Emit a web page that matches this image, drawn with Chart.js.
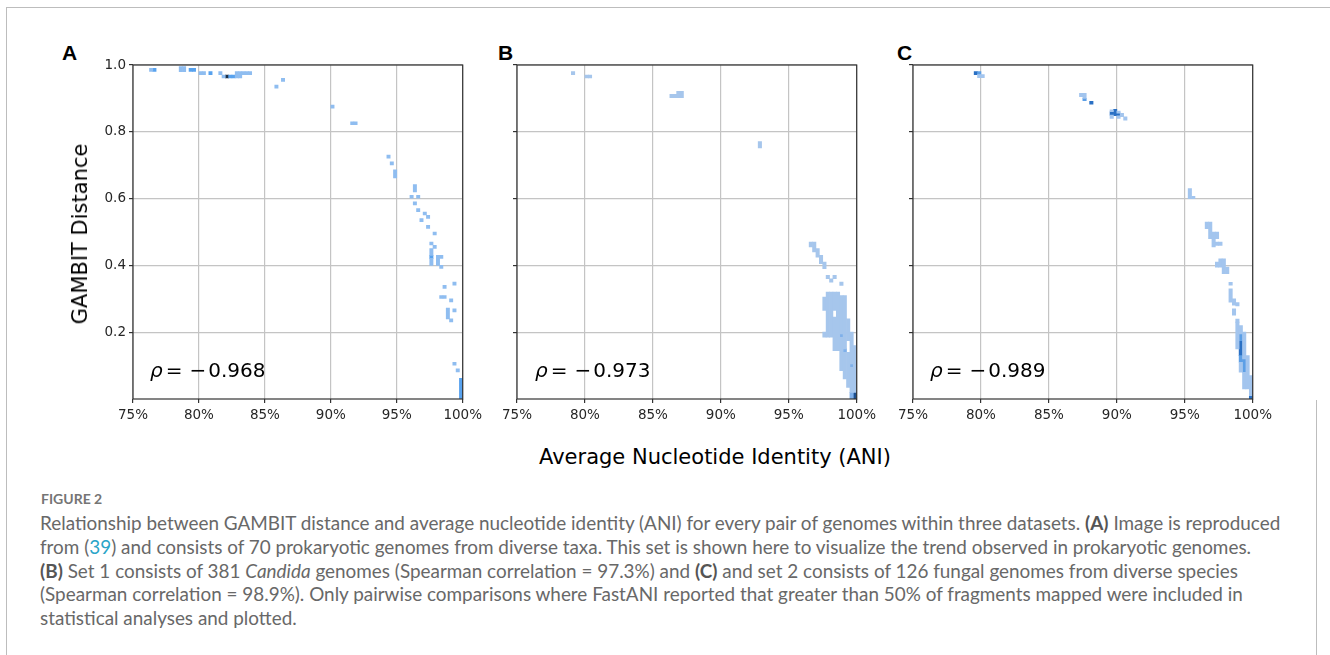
<!DOCTYPE html>
<html>
<head>
<meta charset="utf-8">
<script src="https://cdn.jsdelivr.net/npm/chart.js@4.4.1/dist/chart.umd.min.js"></script>
<style>
  body { margin: 0; width: 1330px; height: 655px; background: #fff; position: relative; overflow: hidden; font-family: 'DejaVu Sans', sans-serif; }
  .line { position: absolute; background: #bdbdbd; }
  .letter { position: absolute; top: 42px; font: bold 21px/21px 'Liberation Sans', Arial, sans-serif; color: #000; }
  .rho { position: absolute; top: 360px; font: 20px/20px 'DejaVu Sans', sans-serif; color: #000; white-space: nowrap; }
  .rho i { font-style: italic; }
  #ytitle { position: absolute; left: 80px; top: 234px; transform: translate(-50%, -50%) rotate(-90deg); font: 21px 'DejaVu Sans', sans-serif; white-space: nowrap; }
  #xtitle { position: absolute; left: 715px; top: 457px; transform: translate(-50%, -50%); font: 21px 'DejaVu Sans', sans-serif; white-space: nowrap; }
  #figlabel { position: absolute; left: 41px; top: 490px; font: bold 14px/18px Lato, sans-serif; color: #757575; }
  #caption { position: absolute; left: 40px; top: 511px; font: 18.9px/23.75px Lato, sans-serif; color: #686868; white-space: nowrap; }
  #caption b { color: #555; }
  #caption .ref { color: #2aa5c8; }
  canvas { position: absolute; }
</style>
</head>
<body>
<div class="line" style="left:6px; top:7px; width:1324px; height:1px;"></div>
<div class="line" style="left:6px; top:7px; width:1px; height:648px;"></div>
<div class="line" style="left:1316px; top:400px; width:1px; height:255px;"></div>

<div class="letter" style="left:62px;">A</div>
<div class="letter" style="left:498px;">B</div>
<div class="letter" style="left:897px;">C</div>

<canvas id="chartA" width="426" height="380" style="left:60px; top:50px;"></canvas>
<canvas id="chartB" width="383" height="380" style="left:497px; top:50px;"></canvas>
<canvas id="chartC" width="383" height="380" style="left:893px; top:50px;"></canvas>

<div class="rho" id="rhoA" style="left:150px;"></div>
<div class="rho" id="rhoB" style="left:535px;"></div>
<div class="rho" id="rhoC" style="left:930px;"></div>

<div id="ytitle">GAMBIT Distance</div>
<div id="xtitle">Average Nucleotide Identity (ANI)</div>

<div id="figlabel">FIGURE 2</div>
<div id="caption">
Relationship between GAMBIT distance and average nucleotide identity (ANI) for every pair of genomes within three datasets. <b>(A)</b> Image is reproduced<br>
from (<span class="ref">39</span>) and consists of 70 prokaryotic genomes from diverse taxa. This set is shown here to visualize the trend observed in prokaryotic genomes.<br>
<b>(B)</b> Set 1 consists of 381 <i>Candida</i> genomes (Spearman correlation = 97.3%) and <b>(C)</b> and set 2 consists of 126 fungal genomes from diverse species<br>
(Spearman correlation = 98.9%). Only pairwise comparisons where FastANI reported that greater than 50% of fragments mapped were included in<br>
statistical analyses and plotted.
</div>

<script>
// axis ticks
const aniTicks = [75, 80, 85, 90, 95, 100];
const distTicks = [0.2, 0.4, 0.6, 0.8, 1.0];
const binWidth = 0.25; // ANI bin width (%)

// spearman values shown in each panel
const rhoValues = [-0.968, -0.973, -0.989];

// histogram cells: [ANI %, distance from, distance to]
const cellsA_light = [
  [76.375, 0.981, 0.99],
  [78.625, 0.98, 0.995], [78.875, 0.98, 0.995],
  [80.125, 0.971, 0.98], [80.375, 0.971, 0.98], [81.625, 0.971, 0.98],
  [81.875, 0.961, 0.97], [82.875, 0.961, 0.97], [83.125, 0.961, 0.97],
  [82.875, 0.971, 0.98], [83.125, 0.971, 0.98], [83.375, 0.971, 0.98], [83.625, 0.971, 0.98], [83.875, 0.971, 0.98],
  [85.875, 0.931, 0.94], [86.375, 0.951, 0.96],
  [90.125, 0.871, 0.88],
  [91.625, 0.821, 0.83], [91.875, 0.821, 0.83],
  [94.375, 0.721, 0.73], [94.625, 0.701, 0.71], [94.875, 0.662, 0.686],
  [96.375, 0.62, 0.642], [96.125, 0.601, 0.61], [96.625, 0.601, 0.61], [96.375, 0.581, 0.59],
  [96.625, 0.561, 0.57], [96.875, 0.531, 0.54], [97.125, 0.551, 0.56], [97.375, 0.541, 0.55],
  [97.375, 0.511, 0.52], [97.875, 0.491, 0.5], [97.625, 0.461, 0.47], [97.875, 0.451, 0.46],
  [97.625, 0.40, 0.421], [97.625, 0.43, 0.45], [98.125, 0.40, 0.43], [98.375, 0.421, 0.43], [98.375, 0.391, 0.40],
  [98.625, 0.331, 0.34], [99.375, 0.341, 0.35], [98.375, 0.301, 0.31], [98.625, 0.301, 0.31],
  [99.125, 0.291, 0.30], [98.875, 0.24, 0.272], [99.125, 0.231, 0.24], [99.375, 0.261, 0.27],
  [99.375, 0.101, 0.11], [99.625, 0.081, 0.09]
];
const cellsA_mid = [
  [76.625, 0.981, 0.99], [79.375, 0.981, 0.99], [79.625, 0.981, 0.99], [80.875, 0.971, 0.98],
  [82.375, 0.961, 0.97], [82.625, 0.961, 0.97], [97.625, 0.421, 0.43], [99.875, 0.0, 0.062]
];
const cellsA_dark = [[82.125, 0.961, 0.97]];

const cellsB_light = [
  [79.125, 0.971, 0.98],
  [80.125, 0.961, 0.97], [80.375, 0.961, 0.97],
  [86.375, 0.902, 0.912], [86.625, 0.902, 0.912], [86.875, 0.902, 0.921], [87.125, 0.902, 0.921],
  [92.875, 0.752, 0.771],
  [96.625, 0.455, 0.47], [96.875, 0.44, 0.47], [97.125, 0.425, 0.45], [97.375, 0.405, 0.43], [97.625, 0.39, 0.41],
  [97.875, 0.36, 0.37], [98.125, 0.35, 0.36], [98.375, 0.36, 0.37], [98.875, 0.34, 0.35],
  [97.625, 0.265, 0.305], [97.625, 0.185, 0.2],
  [97.875, 0.185, 0.32], [98.125, 0.185, 0.32],
  [98.375, 0.265, 0.32], [98.375, 0.145, 0.245],
  [98.625, 0.145, 0.32],
  [98.875, 0.085, 0.185], [98.875, 0.195, 0.31],
  [99.125, 0.06, 0.14], [99.125, 0.15, 0.31],
  [99.375, 0.035, 0.14], [99.375, 0.175, 0.24],
  [99.625, 0.02, 0.095], [99.625, 0.105, 0.2],
  [99.875, 0.02, 0.16]
];
const cellsB_mid = [[98.875, 0.185, 0.195], [99.125, 0.14, 0.15], [99.625, 0.095, 0.105], [99.625, 0.0, 0.02]];
const cellsB_dark = [[99.875, 0.0, 0.02]];

const cellsC_light = [
  [79.875, 0.962, 0.971], [80.125, 0.962, 0.971],
  [87.375, 0.905, 0.915], [87.625, 0.9, 0.915],
  [89.625, 0.84, 0.85], [89.625, 0.86, 0.866], [90.125, 0.84, 0.848], [90.125, 0.856, 0.862],
  [90.375, 0.845, 0.855], [90.625, 0.835, 0.845],
  [95.375, 0.6, 0.63], [95.625, 0.6, 0.607],
  [96.625, 0.51, 0.53], [96.875, 0.48, 0.53], [97.125, 0.455, 0.5], [97.375, 0.48, 0.5],
  [97.375, 0.46, 0.47], [97.625, 0.46, 0.47],
  [97.375, 0.395, 0.41], [97.625, 0.395, 0.42], [97.875, 0.375, 0.42], [98.125, 0.375, 0.395],
  [98.375, 0.341, 0.349], [98.375, 0.29, 0.33],
  [98.625, 0.281, 0.3], [98.875, 0.279, 0.289], [98.625, 0.251, 0.27], [98.875, 0.229, 0.239],
  [98.875, 0.15, 0.23], [99.125, 0.08, 0.11], [99.125, 0.195, 0.22],
  [99.375, 0.03, 0.08], [99.375, 0.12, 0.2], [99.625, 0.03, 0.13],
  [99.875, 0.01, 0.07]
];
const cellsC_mid = [[79.875, 0.971, 0.98], [87.625, 0.893, 0.9], [99.125, 0.11, 0.13], [99.125, 0.175, 0.195], [99.375, 0.08, 0.12]];
const cellsC_dark = [
  [79.625, 0.971, 0.98], [88.125, 0.883, 0.891], [89.625, 0.85, 0.86], [89.875, 0.848, 0.867],
  [90.125, 0.848, 0.856], [99.125, 0.13, 0.175], [99.875, 0.0, 0.01]
];

// black frame round the plot area, like matplotlib spines
const spines = {
  id: 'spines',
  afterDraw(chart) {
    const { ctx, chartArea: a } = chart;
    ctx.save();
    ctx.strokeStyle = '#333';
    ctx.lineWidth = 1.2;
    ctx.strokeRect(a.left, a.top, a.right - a.left, a.bottom - a.top);
    ctx.restore();
  }
};

function cellSet(cells, color) {
  return {
    data: cells.map(c => ({ x: c[0], y: [c[1], c[2]] })),
    backgroundColor: color,
    borderWidth: 0,
    grouped: false,
    barThickness: ctx => {
      const s = ctx.chart.scales.x;
      return s ? Math.abs(s.getPixelForValue(75 + binWidth) - s.getPixelForValue(75)) : 3.4;
    }
  };
}

function makePanel(id, sets, showYLabels, yWidth) {
  const tickFont = { family: 'DejaVu Sans', size: 13.5 };
  return new Chart(document.getElementById(id), {
    type: 'bar',
    data: { datasets: sets },
    plugins: [spines],
    options: {
      responsive: false,
      animation: false,
      events: [],
      layout: { padding: { top: 15, right: 22, left: 0, bottom: 0 } },
      plugins: { legend: { display: false }, tooltip: { enabled: false } },
      scales: {
        x: {
          type: 'linear', min: 75, max: 100, offset: false, z: 1,
          afterBuildTicks: s => { s.ticks = aniTicks.map(v => ({ value: v })); },
          afterFit: s => { s.height = 31; },
          ticks: { callback: v => v + '%', color: '#262626', font: tickFont, padding: 4, maxRotation: 0, autoSkip: false },
          grid: { color: '#c4c4c4', lineWidth: 1.2, tickLength: 4, tickColor: '#333', offset: false },
          border: { display: false }
        },
        y: {
          type: 'linear', min: 0, max: 1, z: 1,
          afterBuildTicks: s => { s.ticks = distTicks.map(v => ({ value: v })); },
          afterFit: s => { s.width = yWidth; },
          ticks: { callback: v => showYLabels ? v.toFixed(1) : '', color: '#262626', font: tickFont, padding: 3 },
          grid: { color: '#c4c4c4', lineWidth: 1.2, tickLength: 4, tickColor: '#333' },
          border: { display: false }
        }
      }
    }
  });
}

makePanel('chartA', [
  cellSet(cellsA_light, '#8fbdf0'),
  cellSet(cellsA_mid, '#58a2ee'),
  cellSet(cellsA_dark, '#1c2f45')
], true, 73);

makePanel('chartB', [
  cellSet(cellsB_light, '#a6c6ec'),
  cellSet(cellsB_mid, '#7fb0ea'),
  cellSet(cellsB_dark, '#1d4f8f')
], false, 20);

makePanel('chartC', [
  cellSet(cellsC_light, '#a3c5ee'),
  cellSet(cellsC_mid, '#5c9fe6'),
  cellSet(cellsC_dark, '#2a70c4')
], false, 20);

['rhoA', 'rhoB', 'rhoC'].forEach((id, i) => {
  const v = rhoValues[i];
  document.getElementById(id).innerHTML =
    '<i>ρ</i><span style="margin-left:3px">=</span><span style="margin-left:7px">' +
    (v < 0 ? '−' : '') + '</span><span style="margin-left:2px">' + Math.abs(v).toFixed(3) + '</span>';
});
</script>
</body>
</html>
